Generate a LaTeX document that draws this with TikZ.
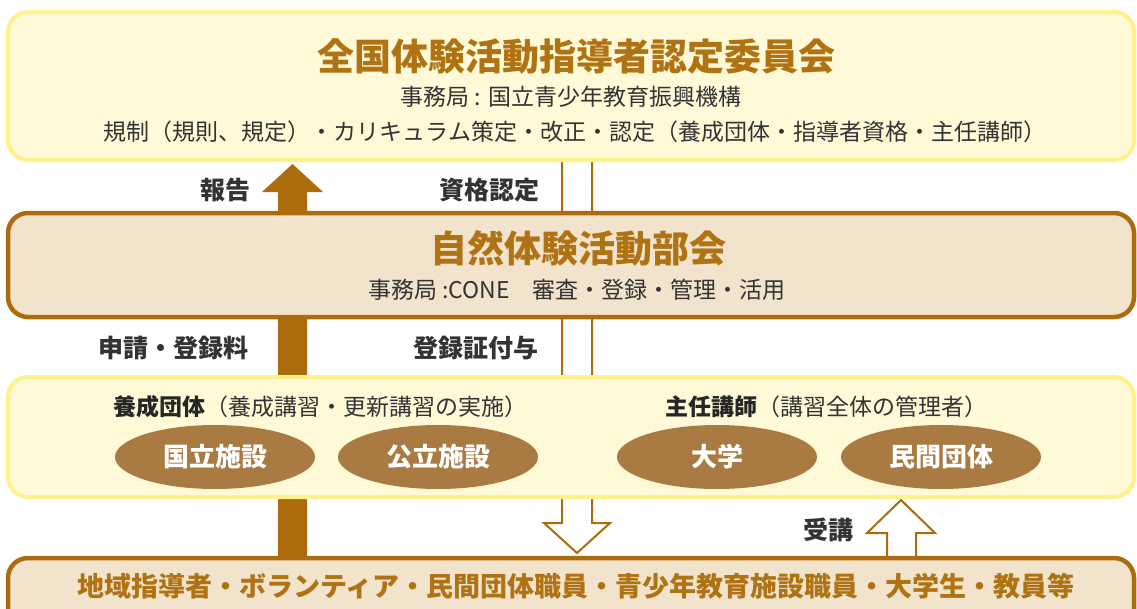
\documentclass[tikz,border=0pt]{standalone}
\usepackage{fontspec}
\setmainfont{Noto Sans CJK JP}
\usetikzlibrary{shapes.geometric,calc}
\definecolor{titlebrown}{HTML}{B07314}
\definecolor{arrowbrown}{HTML}{AC6C0B}
\definecolor{beige}{HTML}{F2E3CD}
\definecolor{ylfill}{HTML}{FFF9D7}
\definecolor{ylborder}{HTML}{FFF18B}
\definecolor{ellfill}{HTML}{A97B42}
\definecolor{textdark}{HTML}{333333}
\tikzset{
  ybox/.style={draw=ylborder, fill=ylfill, line width=4pt, rounded corners=20pt, minimum width=1126pt, inner sep=0pt},
  bbox/.style={draw=arrowbrown, fill=beige, line width=4.5pt, rounded corners=20pt, minimum width=1126pt, inner sep=0pt},
  titletext/.style={text=titlebrown, font=\fontsize{37}{40}\selectfont\bfseries, inner sep=0pt},
  subtext/.style={text=textdark, font=\fontsize{23}{26}\selectfont, inner sep=0pt},
  lbl/.style={text=textdark, font=\fontsize{25}{28}\selectfont\bfseries, inner sep=0pt},
  ell/.style={ellipse, fill=ellfill, minimum width=200pt, minimum height=64pt, inner sep=0pt, text=white, font=\fontsize{26}{28}\selectfont\bfseries},
  hollow/.style={draw=arrowbrown, fill=white, line width=2pt, line join=miter},
}
\begin{document}
\begin{tikzpicture}[x=1pt,y=-1pt]
\useasboundingbox (0,0) rectangle (1137,608);
% box centres
\path (571,86) coordinate (c1) (571,265) coordinate (c2) (571,437) coordinate (c3) (571,609) coordinate (c4);
% hollow arrow down (資格認定 / 登録証付与)
\draw[hollow] (562,160) -- (562,523) -- (544,523) -- (577,553) -- (610,523) -- (592,523) -- (592,160);
% solid arrow up (報告)
\fill[arrowbrown] (278,558) -- (278,192) -- (262,192) -- (292.5,164) -- (323,192) -- (307,192) -- (307,558) -- cycle;
% hollow arrow up (受講)
\draw[hollow] (887,558) -- (887,533) -- (867,533) -- (901,500) -- (935,533) -- (916,533) -- (916,558);
% boxes
\node[ybox, minimum height=148pt] (b1) at (c1) {};
\node[bbox, minimum height=104pt] (b2) at (c2) {};
\node[ybox, minimum height=120pt] (b3) at (c3) {};
\node[bbox, minimum height=102pt] (b4) at (c4) {};
% box 1 texts
\node[titletext] (t1) at (576,57) {全国体験活動指導者認定委員会};
\node[subtext] (s1) at (571,97) {事務局 : 国立青少年教育振興機構};
\node[subtext] (s1b) at (575,132) {規制（規則、規定）・カリキュラム策定・改正・認定（養成団体・指導者資格・主任講師）};
% box 2 texts
\node[titletext] (t2) at (578,248) {自然体験活動部会};
\node[subtext] (s2) at (577,290) {事務局 :CONE　審査・登録・管理・活用};
% labels
\node[lbl] (l1) at (225,190) {報告};
\node[lbl] (l2) at (489,190) {資格認定};
\node[lbl] (l3) at (173,348) {申請・登録料};
\node[lbl] (l4) at (476,348) {登録証付与};
\node[lbl] (l5) at (828,530) {受講};
% box 3 texts
\node[subtext] (h1) at (320,407) {{\bfseries\color{black!85}養成団体}（養成講習・更新講習の実施）};
\node[subtext] (h2) at (826,407) {{\bfseries\color{black!85}主任講師}（講習全体の管理者）};
\node[ell] (e1) at (215,457) {国立施設};
\node[ell] (e2) at (438,457) {公立施設};
\node[ell] (e3) at (717,457) {大学};
\node[ell] (e4) at (941,457) {民間団体};
% box 4 text
\node[titletext, font=\fontsize{27}{29}\selectfont\bfseries] (t4) at (576,586) {地域指導者・ボランティア・民間団体職員・青少年教育施設職員・大学生・教員等};
\end{tikzpicture}
\end{document}
